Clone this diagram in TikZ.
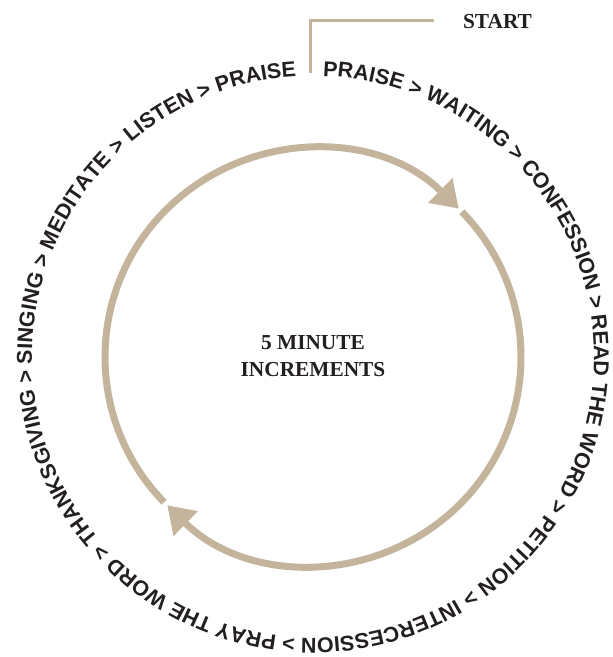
\documentclass[tikz,border=0pt]{standalone}
\usepackage{fontspec}
\usepackage{tikz}
\usetikzlibrary{arrows.meta,decorations.text}
\newfontfamily\ringfont{Liberation Sans}
\newfontfamily\labelfont{Liberation Serif}
\definecolor{sand}{RGB}{196,180,155}
\definecolor{ink}{RGB}{35,31,32}
\newcommand{\ringtext}{\ringfont\bfseries\fontsize{16.1}{18}\selectfont}
\newcommand{\labeltext}{\labelfont\bfseries\fontsize{16}{20.25}\selectfont}

\begin{document}
\begin{tikzpicture}[x=0.75pt, y=0.75pt]
\tikzstyle{ring} = [draw=sand, line width=5.25pt]
\tikzstyle{ringarrow} = [-{Triangle[length=19.5pt, width=24.75pt]}]
\tikzstyle{headline} = [inner sep=0pt, text=ink, font=\labeltext, align=center]
\tikzstyle{marker} = [draw=sand, line width=2.25pt]

\useasboundingbox (-313,-300) rectangle (300,357);

% the cycle
\draw [ring, ringarrow] (224.3:208) arc[start angle=224.3, end angle=45.5, radius=208];
\draw [ring, ringarrow] (44.3:208) arc[start angle=44.3, end angle=-134.5, radius=208];

\node (Increments) [headline] at (0,1) {5 MINUTE\\INCREMENTS};

% steps around the ring
\path [decorate, decoration={text along path, text color=ink, text align={fit to path},
  text={|\ringtext|PRAISE > WAITING > CONFESSION > READ THE WORD > PETITION > INTERCESSION > PRAY THE WORD > THANKSGIVING > SINGING > MEDITATE > LISTEN > PRAISE}}]
  (88:281) arc[start angle=88, end angle=-266.5, radius=281];

% start marker
\coordinate (MarkerFoot) at (-2,284);
\coordinate (MarkerEnd) at (121,336);
\node (Start) [headline] at (184.5,335.3) {START};
\draw [marker] (MarkerFoot) |- (MarkerEnd);
\end{tikzpicture}
\end{document}
